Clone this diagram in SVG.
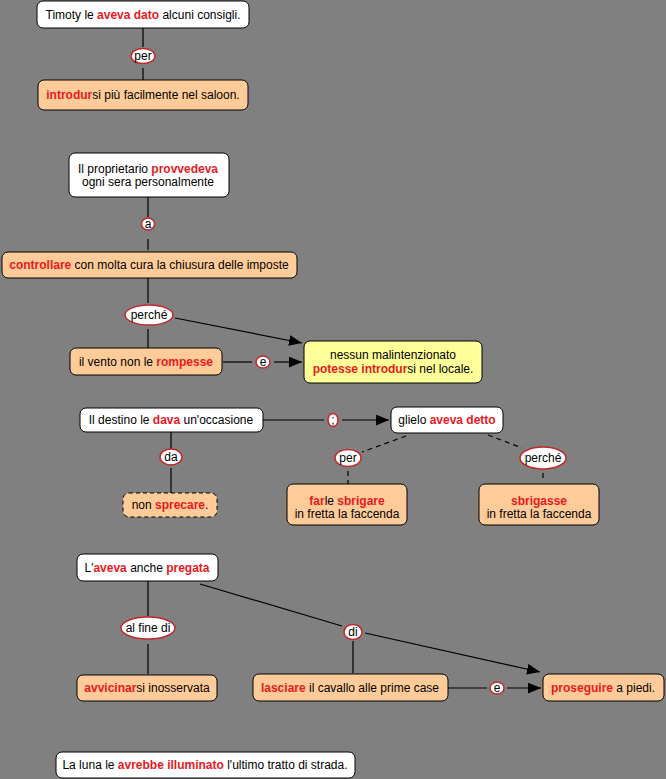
<svg xmlns="http://www.w3.org/2000/svg" width="666" height="779" viewBox="0 0 666 779">
<defs>
<style>
text{font-family:"Liberation Sans",Arial,sans-serif;font-size:12px;fill:#000;text-anchor:middle}
.r{fill:#e8191e;font-weight:bold}
.w{fill:#fff;stroke:#000;stroke-width:1}
.o{fill:#ffcc99;stroke:#000;stroke-width:1}
.y{fill:#ffff99;stroke:#000;stroke-width:1}
.d{stroke-dasharray:4,3}
.l{fill:#fff;stroke:#c0282c;stroke-width:1.5}
.c{stroke:#000;stroke-width:1.2;fill:none}
.cd{stroke:#000;stroke-width:1.2;fill:none;stroke-dasharray:5,4}
</style>
<marker id="ah" viewBox="0 0 12 10" refX="12" refY="5" markerWidth="13" markerHeight="11" markerUnits="userSpaceOnUse" orient="auto">
<path d="M0,0 L12,5 L0,10 z" fill="#000"/>
</marker>
</defs>
<rect width="666" height="779" fill="#808080"/>
<g id="connectors">
<line class="c" x1="143" y1="28" x2="143" y2="47"/>
<line class="c" x1="143" y1="68" x2="143" y2="80"/>
<line class="c" x1="148" y1="197" x2="148" y2="217"/>
<line class="c" x1="148" y1="239" x2="148" y2="250"/>
<line class="c" x1="148" y1="278" x2="148" y2="303"/>
<line class="c" x1="148" y1="329" x2="148" y2="348"/>
<line class="c" x1="175" y1="318" x2="302" y2="343" marker-end="url(#ah)"/>
<line class="c" x1="223" y1="362" x2="252" y2="362"/>
<line class="c" x1="274" y1="362" x2="302" y2="362" marker-end="url(#ah)"/>
<line class="c" x1="263" y1="420" x2="324" y2="420"/>
<line class="c" x1="342" y1="420" x2="389" y2="420" marker-end="url(#ah)"/>
<line class="c" x1="171" y1="432" x2="171" y2="449"/>
<line class="c" x1="171" y1="468" x2="171" y2="493"/>
<line class="cd" x1="406" y1="436" x2="362" y2="452"/>
<line class="cd" x1="348" y1="471" x2="348" y2="484"/>
<line class="cd" x1="488" y1="435" x2="522" y2="448"/>
<line class="cd" x1="543" y1="473" x2="543" y2="479"/>
<line class="c" x1="148" y1="581" x2="148" y2="616"/>
<line class="c" x1="148" y1="644" x2="148" y2="674"/>
<line class="c" x1="200" y1="584" x2="342" y2="626"/>
<line class="c" x1="365" y1="633" x2="540" y2="672" marker-end="url(#ah)"/>
<line class="c" x1="353" y1="641" x2="353" y2="673"/>
<line class="c" x1="448" y1="688" x2="487" y2="688"/>
<line class="c" x1="507" y1="688" x2="541" y2="688" marker-end="url(#ah)"/>
</g>
<g id="link-per1"><ellipse class="l" cx="143" cy="56" rx="12" ry="7.5"/><text x="143" y="60">per</text></g>
<g id="link-a"><ellipse class="l" cx="148" cy="224" rx="6.5" ry="6"/><text x="148" y="228">a</text></g>
<g id="link-perche1"><ellipse class="l" cx="149" cy="315" rx="24" ry="10"/><text x="149" y="319">perché</text></g>
<g id="link-e1"><ellipse class="l" cx="263" cy="362" rx="7" ry="6"/><text x="263" y="366">e</text></g>
<g id="link-semi"><ellipse class="l" cx="333" cy="420" rx="5" ry="6.5"/><text x="333" y="424">;</text></g>
<g id="link-da"><ellipse class="l" cx="171" cy="457" rx="11" ry="8"/><text x="171" y="461">da</text></g>
<g id="link-per2"><ellipse class="l" cx="348" cy="458" rx="13" ry="8.5"/><text x="348" y="462">per</text></g>
<g id="link-perche2"><ellipse class="l" cx="543" cy="458" rx="23" ry="11"/><text x="543" y="462">perché</text></g>
<g id="link-alfine"><ellipse class="l" cx="148" cy="628" rx="27" ry="11"/><text x="148" y="632">al fine di</text></g>
<g id="link-di"><ellipse class="l" cx="353" cy="632" rx="9" ry="7.5"/><text x="353" y="636">di</text></g>
<g id="link-e2"><ellipse class="l" cx="497" cy="688" rx="7" ry="6"/><text x="497" y="692">e</text></g>

<g id="n1"><rect class="w" x="37" y="1" width="212" height="27" rx="6"/><text x="143" y="19">Timoty le <tspan class="r">aveva dato</tspan> alcuni consigli.</text></g>
<g id="n2"><rect class="o" x="38" y="80" width="210" height="30" rx="6"/><text x="143" y="99"><tspan class="r">introdur</tspan>si più facilmente nel saloon.</text></g>
<g id="n3"><rect class="w" x="69" y="153" width="160" height="44" rx="6"/><text x="148" y="173">Il proprietario <tspan class="r">provvedeva</tspan></text><text x="148" y="186">ogni sera personalmente</text></g>
<g id="n4"><rect class="o" x="2" y="252" width="295" height="26" rx="6"/><text x="149" y="269"><tspan class="r">controllare</tspan> con molta cura la chiusura delle imposte</text></g>
<g id="n5"><rect class="o" x="70" y="348" width="152" height="27" rx="6"/><text x="146" y="366">il vento non le <tspan class="r">rompesse</tspan></text></g>
<g id="n6"><rect class="y" x="304" y="341" width="178" height="42" rx="6"/><text x="393" y="359">nessun malintenzionato</text><text x="393" y="373"><tspan class="r">potesse introdur</tspan>si nel locale.</text></g>
<g id="n7"><rect class="w" x="80" y="408" width="183" height="24" rx="6"/><text x="171" y="424">Il destino le <tspan class="r">dava</tspan> un'occasione</text></g>
<g id="n8"><rect class="w" x="391" y="407" width="112" height="26" rx="6"/><text x="447" y="424">glielo <tspan class="r">aveva detto</tspan></text></g>
<g id="n9"><rect class="o" x="287" y="484" width="120" height="41" rx="6"/><text x="347" y="505"><tspan class="r">far</tspan>le <tspan class="r">sbrigare</tspan></text><text x="347" y="518">in fretta la faccenda</text></g>
<g id="n10"><rect class="o" x="479" y="484" width="120" height="41" rx="6"/><text x="539" y="505" class="r">sbrigasse</text><text x="539" y="518">in fretta la faccenda</text></g>
<g id="n11"><rect class="o d" x="123" y="493" width="94" height="24" rx="6"/><text x="170" y="509">non <tspan class="r">sprecare</tspan>.</text></g>
<g id="n12"><rect class="w" x="77" y="554" width="141" height="27" rx="6"/><text x="147" y="572">L'<tspan class="r">aveva</tspan> anche <tspan class="r">pregata</tspan></text></g>
<g id="n13"><rect class="o" x="77" y="675" width="140" height="26" rx="6"/><text x="147" y="692"><tspan class="r">avvicinar</tspan>si inosservata</text></g>
<g id="n14"><rect class="o" x="253" y="674" width="195" height="27" rx="6"/><text x="350" y="692"><tspan class="r">lasciare</tspan> il cavallo alle prime case</text></g>
<g id="n15"><rect class="o" x="543" y="674" width="121" height="27" rx="6"/><text x="603" y="692"><tspan class="r">proseguire</tspan> a piedi.</text></g>
<g id="n16"><rect class="w" x="56" y="752" width="299" height="26" rx="6"/><text x="205" y="769">La luna le <tspan class="r">avrebbe illuminato</tspan> l'ultimo tratto di strada.</text></g>
</svg>
